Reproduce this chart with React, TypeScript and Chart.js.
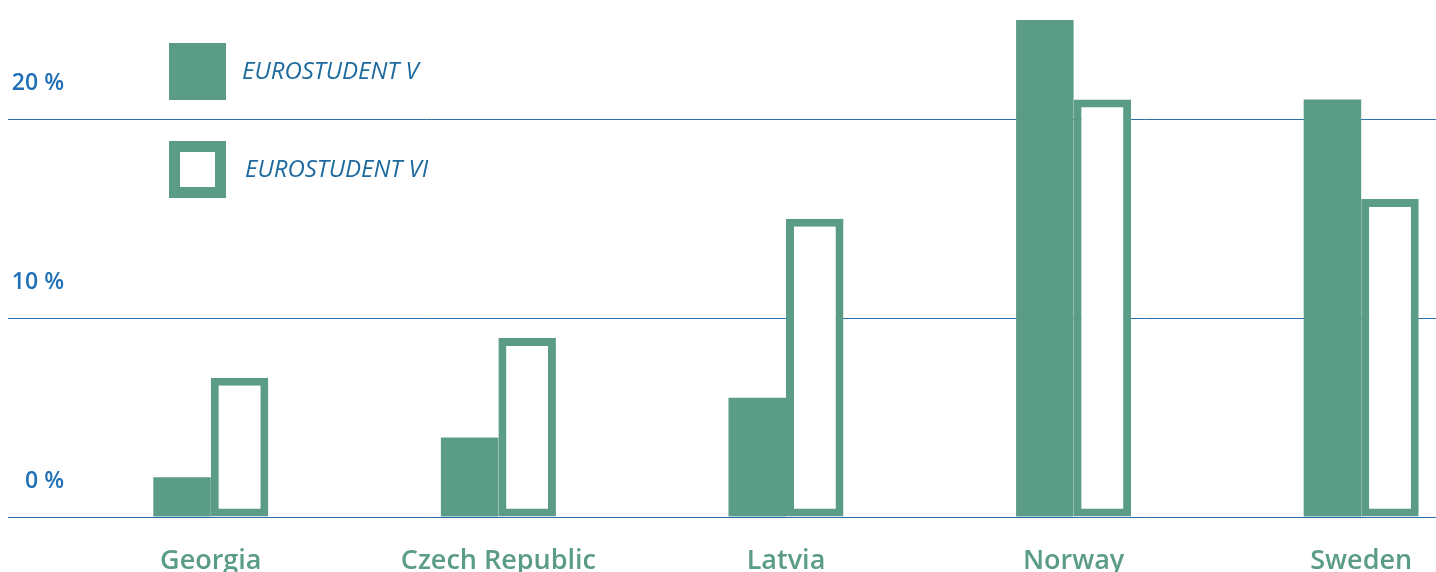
import React, { useEffect, useRef } from "react";
import { Chart, registerables } from "chart.js";

Chart.register(...registerables);

const categories = ["Georgia", "Czech Republic", "Latvia", "Norway", "Sweden"];
const seriesNames = ["EUROSTUDENT V", "EUROSTUDENT VI"];
const esV = [2, 4, 6, 25, 21];
const esVI = [7, 9, 15, 21, 16];
const yTickValues = [0, 10, 20];
const yTickLabels = ["0 %", "10 %", "20 %"];

const GREEN = "#5b9c86";
const GRID_BLUE = "#2c6fae";
const TICK_BLUE = "#1f70b6";
const LEGEND_BLUE = "#1d6a9f";
const FONT = "'Open Sans', 'DejaVu Sans', sans-serif";

const legendPlugin = {
  id: "customLegend",
  afterDraw(chart: any) {
    const ctx = chart.ctx;
    const ds = chart.data.datasets;
    const items = [
      { x: 161, y: 43, size: 57, tx: 234, ty: 72 },
      { x: 161, y: 141, size: 57, tx: 237, ty: 170 },
    ];
    ctx.save();
    items.forEach((it, i) => {
      const d = ds[i];
      ctx.fillStyle = d.borderColor;
      ctx.fillRect(it.x, it.y, it.size, it.size);
      if (i === 1) {
        const b = 11;
        ctx.fillStyle = d.backgroundColor;
        ctx.fillRect(it.x + b, it.y + b, it.size - 2 * b, it.size - 2 * b);
      }
      ctx.fillStyle = LEGEND_BLUE;
      ctx.font = `italic 400 24px ${FONT}`;
      ctx.textBaseline = "middle";
      ctx.textAlign = "left";
      ctx.fillText(d.label, it.tx, it.ty);
    });
    ctx.restore();
  },
};

export default function App() {
  const ref = useRef<HTMLCanvasElement | null>(null);

  useEffect(() => {
    if (!ref.current) return;
    const chart = new Chart(ref.current, {
      type: "bar",
      data: {
        labels: categories,
        datasets: [
          {
            label: seriesNames[0],
            data: esV,
            backgroundColor: GREEN,
            borderColor: GREEN,
            borderWidth: 0,
          },
          {
            label: seriesNames[1],
            data: esVI,
            backgroundColor: "#ffffff",
            borderColor: GREEN,
            borderWidth: 8,
            borderSkipped: false,
          },
        ],
      },
      options: {
        responsive: false,
        animation: false,
        devicePixelRatio: 1,
        layout: { autoPadding: false, padding: { top: 20, left: 0, right: 0, bottom: 0 } },
        datasets: { bar: { barPercentage: 1, categoryPercentage: 0.4 } },
        plugins: { legend: { display: false }, tooltip: { enabled: false } },
        scales: {
          x: {
            grid: { display: false, drawTicks: false },
            border: { display: false },
            ticks: {
              color: GREEN,
              font: { family: FONT, size: 27, weight: "600" },
              padding: 28,
              maxRotation: 0,
              autoSkip: false,
            },
            afterFit: (s: any) => {
              s.height = 80;
            },
          },
          y: {
            min: 0,
            max: 25,
            border: { display: false },
            grid: {
              color: GRID_BLUE,
              lineWidth: 1,
              drawTicks: true,
              tickLength: 59,
            },
            ticks: {
              stepSize: 10,
              color: TICK_BLUE,
              font: { family: FONT, size: 23, weight: "600" },
              padding: -56,
              labelOffset: -36,
              callback: (v: any) => {
                const i = yTickValues.indexOf(Number(v));
                return i >= 0 ? yTickLabels[i] : "";
              },
            },
            afterBuildTicks: (s: any) => {
              s.ticks = yTickValues.map((v) => ({ value: v }));
            },
            afterFit: (s: any) => {
              s.width = 59;
            },
          },
        },
      },
      plugins: [legendPlugin],
    } as any);
    return () => chart.destroy();
  }, []);

  return (
    <div
      style={{
        position: "fixed",
        left: 0,
        top: 0,
        width: 1436,
        height: 572,
        overflow: "hidden",
        background: "#ffffff",
      }}
    >
      <canvas
        ref={ref}
        width={1497}
        height={597}
        style={{ position: "absolute", left: 8, top: 0, width: 1497, height: 597 }}
      />
    </div>
  );
}
